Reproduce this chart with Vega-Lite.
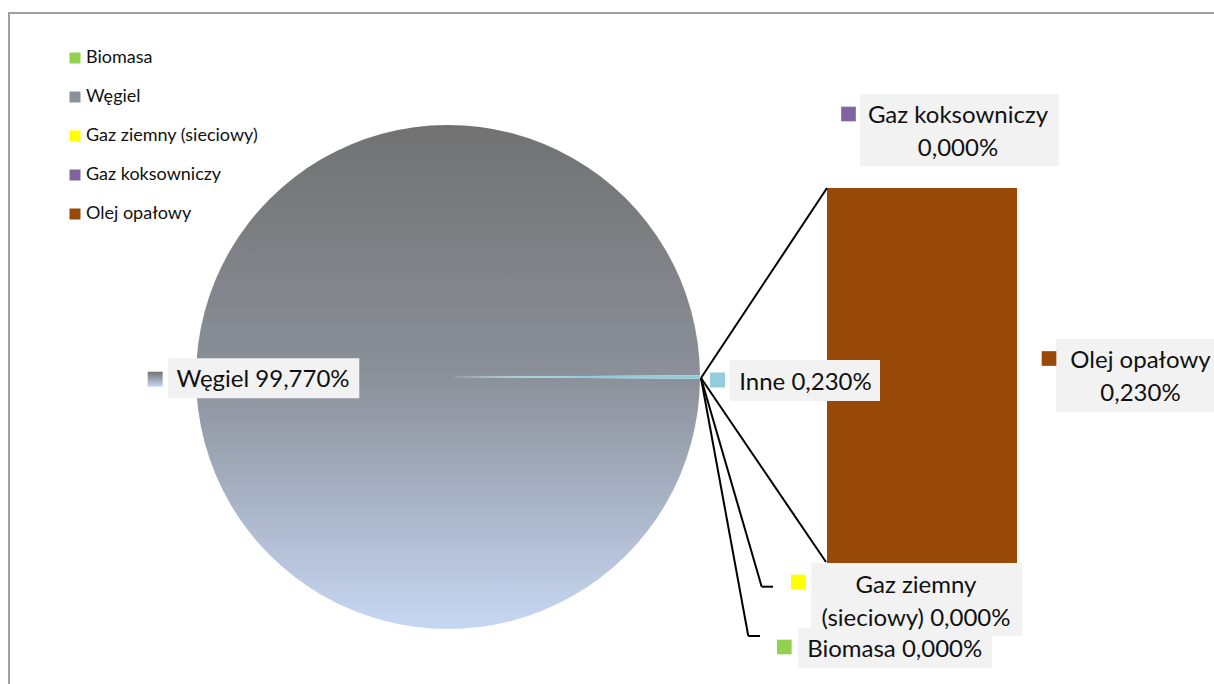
{
  "$schema": "https://vega.github.io/schema/vega-lite/v6.json",
  "width": 1214,
  "height": 684,
  "autosize": {"type": "fit", "contains": "padding"},
  "padding": {"left": 9, "top": 13, "right": -3, "bottom": -3},
  "background": "white",
  "config": {
    "view": {"stroke": "#a0a0a0", "strokeWidth": 2},
    "font": "Lato",
    "text": {"font": "Lato", "color": "#111111"},
    "rule": {"color": "#000000", "strokeWidth": 2}
  },
  "datasets": {
    "kolo": [
      {"zrodlo": "Węgiel", "udzial": 0.9977},
      {"zrodlo": "Inne", "udzial": 0.0023}
    ],
    "slupek": [
      {"grupa": "Inne", "zrodlo": "Gaz koksowniczy", "udzial": 0},
      {"grupa": "Inne", "zrodlo": "Olej opałowy", "udzial": 0.0023},
      {"grupa": "Inne", "zrodlo": "Gaz ziemny (sieciowy)", "udzial": 0},
      {"grupa": "Inne", "zrodlo": "Biomasa", "udzial": 0}
    ]
  },
  "layer": [
    {
      "data": {"name": "kolo"},
      "mark": {"type": "arc", "x": 439, "y": 364, "outerRadius": 252, "strokeWidth": 0},
      "encoding": {
        "theta": {"field": "udzial", "type": "quantitative", "stack": true, "scale": {"range": [1.56357, 7.846755]}},
        "order": {"field": "udzial", "sort": "ascending"},
        "fill": {
          "condition": {"test": "datum.zrodlo === 'Inne'", "value": "#93cddd"},
          "value": {"gradient": "linear", "x1": 0, "y1": 0, "x2": 0, "y2": 1,
            "stops": [{"offset": 0, "color": "#717171"}, {"offset": 0.5, "color": "#8b9099"}, {"offset": 1, "color": "#c7d7f3"}]}
        }
      }
    },
    {
      "data": {"name": "slupek"},
      "mark": {"type": "bar", "strokeWidth": 0},
      "encoding": {
        "x": {"field": "grupa", "type": "nominal", "axis": null,
          "scale": {"type": "band", "range": [818, 1008], "paddingInner": 0, "paddingOuter": 0}},
        "y": {"field": "udzial", "type": "quantitative", "stack": "zero", "axis": null,
          "scale": {"range": [550, 175], "nice": false, "zero": true}},
        "color": {
          "field": "zrodlo", "type": "nominal",
          "scale": {
            "domain": ["Biomasa", "Węgiel", "Gaz ziemny (sieciowy)", "Gaz koksowniczy", "Olej opałowy"],
            "range": ["#92d050", "#8b9099", "#ffff00", "#8064a2", "#984807"]
          },
          "legend": {
            "orient": "none", "legendX": 57, "legendY": 36, "title": null,
            "padding": 0, "symbolType": "square", "symbolSize": 121, "symbolStrokeWidth": 0,
            "symbolOpacity": 1, "labelFont": "Lato", "labelFontSize": 18, "labelColor": "#111111",
            "labelOffset": 2, "rowPadding": 21, "labelLimit": 400
          }
        },
        "order": {"field": "udzial", "sort": "ascending"}
      }
    },
    {
      "data": {"name": "slupek"},
      "transform": [{"filter": "datum.zrodlo === 'Olej opałowy'"}],
      "layer": [
        {"mark": "rule", "encoding": {"x": {"value": 692}, "y": {"value": 365}, "x2": {"value": 818}, "y2": {"value": 175}}},
        {"mark": "rule", "encoding": {"x": {"value": 692}, "y": {"value": 365}, "x2": {"value": 817}, "y2": {"value": 549}}},
        {"mark": "rule", "encoding": {"x": {"value": 692}, "y": {"value": 365}, "x2": {"value": 752.7}, "y2": {"value": 573.7}}},
        {"mark": "rule", "encoding": {"x": {"value": 752.7}, "y": {"value": 573.7}, "x2": {"value": 764}, "y2": {"value": 573.7}}},
        {"mark": "rule", "encoding": {"x": {"value": 692}, "y": {"value": 365}, "x2": {"value": 739.3}, "y2": {"value": 623}}},
        {"mark": "rule", "encoding": {"x": {"value": 739.3}, "y": {"value": 623}, "x2": {"value": 751}, "y2": {"value": 623}}}
      ]
    },
    {
      "data": {"name": "kolo"},
      "transform": [{"filter": "datum.zrodlo === 'Węgiel'"}],
      "layer": [
        {"mark": {"type": "point", "x": 254.8, "y": 365.3, "shape": "M-95.5,-20H95.5V20H-95.5Z", "size": 4, "filled": true, "fill": "#f2f2f2", "opacity": 1, "strokeWidth": 0}, "encoding": {}},
        {"mark": {"type": "point", "x": 146.2, "y": 366.2, "shape": "square", "size": 225, "filled": true, "opacity": 1, "strokeWidth": 0,
          "fill": {"gradient": "linear", "x1": 0, "y1": 0, "x2": 0, "y2": 1, "stops": [{"offset": 0, "color": "#727272"}, {"offset": 1, "color": "#c7d7f3"}]}}, "encoding": {}},
        {"mark": {"type": "text", "x": 254, "y": 373.7, "align": "center", "baseline": "alphabetic", "fontSize": 24,
          "text": {"expr": "datum.zrodlo + ' ' + replace(format(datum.udzial, '.3%'), '.', ',')"}}, "encoding": {}}
      ]
    },
    {
      "data": {"name": "kolo"},
      "transform": [{"filter": "datum.zrodlo === 'Inne'"}],
      "layer": [
        {"mark": {"type": "point", "x": 796, "y": 367.5, "shape": "M-75,-20.5H75V20.5H-75Z", "size": 4, "filled": true, "fill": "#f2f2f2", "opacity": 1, "strokeWidth": 0}, "encoding": {}},
        {"mark": {"type": "point", "x": 708.5, "y": 367, "shape": "square", "size": 225, "filled": true, "fill": "#93cddd", "opacity": 1, "strokeWidth": 0}, "encoding": {}},
        {"mark": {"type": "text", "x": 796.5, "y": 377, "align": "center", "baseline": "alphabetic", "fontSize": 24,
          "text": {"expr": "datum.zrodlo + ' ' + replace(format(datum.udzial, '.3%'), '.', ',')"}}, "encoding": {}}
      ]
    },
    {
      "data": {"name": "slupek"},
      "transform": [{"filter": "datum.zrodlo === 'Gaz koksowniczy'"}],
      "encoding": {
        "x": {"field": "grupa", "type": "nominal"},
        "y": {"field": "udzial", "type": "quantitative", "stack": null}
      },
      "layer": [
        {"mark": {"type": "point", "xOffset": 37.5, "yOffset": -433, "shape": "M-99.5,-36H99.5V36H-99.5Z", "size": 4, "filled": true, "fill": "#f2f2f2", "opacity": 1, "strokeWidth": 0}},
        {"mark": {"type": "point", "xOffset": -73.5, "yOffset": -449, "shape": "square", "size": 215, "filled": true, "fill": "#8064a2", "opacity": 1, "strokeWidth": 0}},
        {"mark": {"type": "text", "dx": 36, "dy": -439.7, "align": "center", "baseline": "alphabetic", "fontSize": 24, "lineHeight": 33,
          "text": {"expr": "[datum.zrodlo, replace(format(datum.udzial, '.3%'), '.', ',')]"}}}
      ]
    },
    {
      "data": {"name": "slupek"},
      "transform": [{"filter": "datum.zrodlo === 'Olej opałowy'"}],
      "encoding": {
        "x": {"field": "grupa", "type": "nominal"},
        "y": {"field": "udzial", "type": "quantitative", "stack": null}
      },
      "layer": [
        {"mark": {"type": "point", "xOffset": 214, "yOffset": 187.5, "shape": "M-80,-36.5H80V36.5H-80Z", "size": 4, "filled": true, "fill": "#f2f2f2", "opacity": 1, "strokeWidth": 0}},
        {"mark": {"type": "point", "xOffset": 127, "yOffset": 170.5, "shape": "square", "size": 215, "filled": true, "fill": "#984807", "opacity": 1, "strokeWidth": 0}},
        {"mark": {"type": "text", "dx": 218.5, "dy": 180, "align": "center", "baseline": "alphabetic", "fontSize": 24, "lineHeight": 33,
          "text": {"expr": "[datum.zrodlo, replace(format(datum.udzial, '.3%'), '.', ',')]"}}}
      ]
    },
    {
      "data": {"name": "slupek"},
      "transform": [{"filter": "datum.zrodlo === 'Biomasa'"}],
      "encoding": {
        "x": {"field": "grupa", "type": "nominal"},
        "y": {"field": "udzial", "type": "quantitative", "stack": null}
      },
      "layer": [
        {"mark": {"type": "point", "xOffset": -27, "yOffset": 85, "shape": "M-97,-20H97V20H-97Z", "size": 4, "filled": true, "fill": "#f2f2f2", "opacity": 1, "strokeWidth": 0}},
        {"mark": {"type": "point", "xOffset": -137.7, "yOffset": 84, "shape": "square", "size": 215, "filled": true, "fill": "#92d050", "opacity": 1, "strokeWidth": 0}},
        {"mark": {"type": "text", "dx": -27.3, "dy": 93.7, "align": "center", "baseline": "alphabetic", "fontSize": 24,
          "text": {"expr": "datum.zrodlo + ' ' + replace(format(datum.udzial, '.3%'), '.', ',')"}}}
      ]
    },
    {
      "data": {"name": "slupek"},
      "transform": [{"filter": "datum.zrodlo === 'Gaz ziemny (sieciowy)'"}],
      "encoding": {
        "x": {"field": "grupa", "type": "nominal"},
        "y": {"field": "udzial", "type": "quantitative", "stack": null}
      },
      "layer": [
        {"mark": {"type": "point", "xOffset": -5.5, "yOffset": 36.5, "shape": "M-105.5,-36.5H105.5V36.5H-105.5Z", "size": 4, "filled": true, "fill": "#f2f2f2", "opacity": 1, "strokeWidth": 0}},
        {"mark": {"type": "point", "xOffset": -123.7, "yOffset": 19, "shape": "square", "size": 215, "filled": true, "fill": "#ffff00", "opacity": 1, "strokeWidth": 0}},
        {"mark": {"type": "text", "dx": -6, "dy": 29.7, "align": "center", "baseline": "alphabetic", "fontSize": 24, "lineHeight": 33,
          "text": {"expr": "[slice(datum.zrodlo, 0, 10), slice(datum.zrodlo, 11) + ' ' + replace(format(datum.udzial, '.3%'), '.', ',')]"}}}
      ]
    }
  ]
}
